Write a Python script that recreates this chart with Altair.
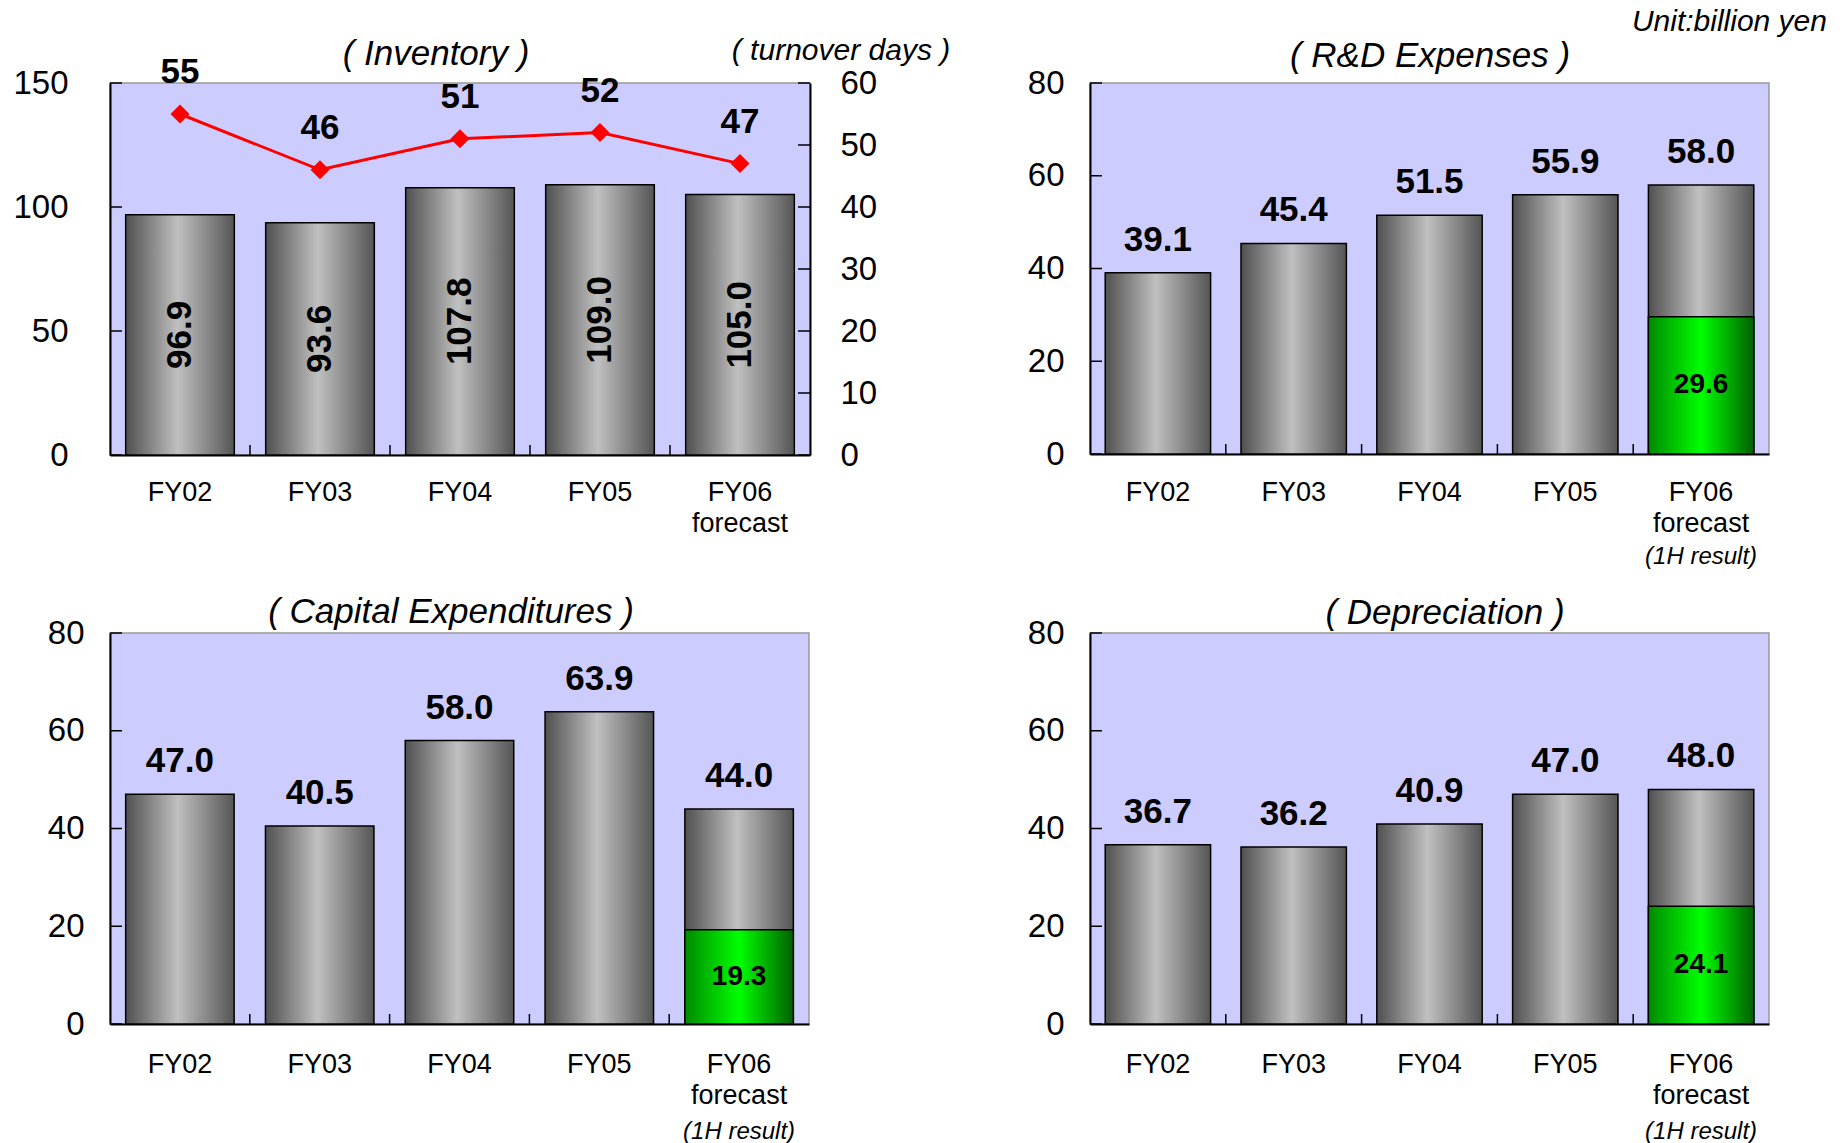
import altair as alt
import pandas as pd

FONT = "Liberation Sans"

# ---------------- data ----------------
cats = ["FY02", "FY03", "FY04", "FY05", "FY06"]
inventory = [96.9, 93.6, 107.8, 109.0, 105.0]
turnover_days = [55, 46, 51, 52, 47]
rd_expenses = [39.1, 45.4, 51.5, 55.9, 58.0]
rd_1h = 29.6
capex = [47.0, 40.5, 58.0, 63.9, 44.0]
capex_1h = 19.3
depreciation = [36.7, 36.2, 40.9, 47.0, 48.0]
dep_1h = 24.1
inv_ticks = [0, 50, 100, 150]
days_ticks = [0, 10, 20, 30, 40, 50, 60]
amt_ticks = [0, 20, 40, 60, 80]
boundary_cats = ["FY03", "FY04", "FY05", "FY06"]
unit_text = "Unit:billion yen"
half_label = "(1H result)"

TICK_FS = 33
CAT_FS = 27
BOLD_FS = 35
TITLE_FS = 35

GRAY = alt.Gradient(
    gradient="linear", x1=0, x2=1, y1=0, y2=0,
    stops=[alt.GradientStop(color="#505050", offset=0),
           alt.GradientStop(color="#c0c0c0", offset=0.48),
           alt.GradientStop(color="#555555", offset=1)])
GREEN = alt.Gradient(
    gradient="linear", x1=0, x2=1, y1=0, y2=0,
    stops=[alt.GradientStop(color="#008a00", offset=0),
           alt.GradientStop(color="#00ff00", offset=0.5),
           alt.GradientStop(color="#006000", offset=1)])

LABEL_EXPR = "datum.value == 'FY06' ? ['FY06', 'forecast'] : datum.value"


def xaxis(label_pad):
    return alt.Axis(title=None, labelAngle=0, labelFontSize=CAT_FS, labelFont=FONT,
                    labelColor="black", labelPadding=label_pad, ticks=False,
                    domainColor="black", domainWidth=2, labelExpr=LABEL_EXPR,
                    labelLineHeight=31, grid=False)


def xenc(label_pad, band_pos=None):
    kw = {}
    if band_pos is not None:
        kw["bandPosition"] = band_pos
    return alt.X("cat:N", sort=cats,
                 scale=alt.Scale(domain=cats, paddingInner=0, paddingOuter=0),
                 axis=xaxis(label_pad), **kw)


def yenc(domain, ticks, label_pad, orient="left"):
    return alt.Y("v:Q",
                 scale=alt.Scale(domain=domain, nice=False, zero=True),
                 axis=alt.Axis(title=None, values=ticks, orient=orient, ticks=False, grid=False,
                               labelFontSize=TICK_FS, labelFont=FONT, labelColor="black",
                               labelPadding=label_pad, domainColor="black", domainWidth=2))


def bar_panel(values, half_value, w, h, ydom, yticks, ylabpad, xlabpad,
              title, tx, ty, half_dy, extra=None):
    df = pd.DataFrame({"cat": cats, "v": values})
    dg = pd.DataFrame({"cat": [cats[-1]], "v": [half_value]})
    dt = pd.DataFrame({"v": yticks})
    db = pd.DataFrame({"cat": boundary_cats})
    x = xenc(xlabpad)
    y = yenc(ydom, yticks, ylabpad)

    bars = alt.Chart(df).mark_bar(width={"band": 0.776}, color=GRAY, stroke="black",
                                  strokeWidth=1.5).encode(x=x, y=y)
    labels = alt.Chart(df).mark_text(font=FONT, fontSize=BOLD_FS, fontWeight="bold", dy=-22,
                                     baseline="alphabetic", color="black").encode(
        x=x, y=y, text=alt.Text("v:Q", format=".1f"))
    green = alt.Chart(dg).mark_bar(width={"band": 0.776}, color=GREEN, stroke="black",
                                   strokeWidth=1.5).encode(x=x, y=y)
    glabel = alt.Chart(dg).transform_calculate(t="format(datum.v, '.1f')").transform_calculate(
        v="datum.v / 2").mark_text(
        font=FONT, fontSize=28, fontWeight="bold", baseline="middle", color="black").encode(
        x=x, y=y, text="t:N")
    lticks = alt.Chart(dt).mark_rule(color="black", strokeWidth=1.5).encode(
        y=y, x=alt.value(0), x2=alt.value(12))
    bticks = alt.Chart(db).mark_rule(color="black", strokeWidth=1.5).encode(
        x=xenc(xlabpad, band_pos=0), y=alt.value(h - 10), y2=alt.value(h))
    ttl = alt.Chart(pd.DataFrame({"t": [title]})).mark_text(
        font=FONT, fontSize=TITLE_FS, fontStyle="italic", align="center", baseline="alphabetic",
        color="black").encode(text="t:N", x=alt.value(tx), y=alt.value(ty))
    half = alt.Chart(dg).mark_text(font=FONT, fontSize=24, fontStyle="italic",
                                   baseline="alphabetic", color="black").encode(
        x=x, y=alt.value(h + half_dy), text=alt.value(half_label))
    layers = [bars, green, labels, glabel, lticks, bticks, ttl, half]
    if extra is not None:
        layers.append(extra)
    return alt.layer(*layers).properties(width=w, height=h)


# ---------------- Inventory panel ----------------
W1, H1 = 700, 372
dfi = pd.DataFrame({"cat": cats, "v": inventory})
dfd = pd.DataFrame({"cat": cats, "v": turnover_days})
x1 = xenc(24)
yl = yenc([0, 150], inv_ticks, 42)
yr = yenc([0, 60], days_ticks, 30, orient="right")

inv_bars = alt.Chart(dfi).mark_bar(width={"band": 0.776}, color=GRAY, stroke="black",
                                   strokeWidth=1.5).encode(x=x1, y=yl)
inv_labels = alt.Chart(dfi).transform_calculate(t="format(datum.v, '.1f')").transform_calculate(
    v="datum.v / 2").mark_text(font=FONT, fontSize=BOLD_FS, fontWeight="bold", angle=270,
                               align="center", baseline="middle", color="black").encode(
    x=x1, y=yl, text="t:N")
inv_lticks = alt.Chart(pd.DataFrame({"v": inv_ticks})).mark_rule(
    color="black", strokeWidth=1.5).encode(y=yl, x=alt.value(0), x2=alt.value(12))
inv_bticks = alt.Chart(pd.DataFrame({"cat": boundary_cats})).mark_rule(
    color="black", strokeWidth=1.5).encode(
    x=xenc(24, band_pos=0), y=alt.value(H1 - 10), y2=alt.value(H1))
inv_title = alt.Chart(pd.DataFrame({"t": ["( Inventory )"]})).mark_text(
    font=FONT, fontSize=TITLE_FS, fontStyle="italic", align="center", baseline="alphabetic",
    color="black").encode(text="t:N", x=alt.value(326), y=alt.value(-18))
days_title = alt.Chart(pd.DataFrame({"t": ["( turnover days )"]})).mark_text(
    font=FONT, fontSize=30, fontStyle="italic", align="center", baseline="alphabetic",
    color="black").encode(text="t:N", x=alt.value(731), y=alt.value(-23))

left_group = alt.layer(inv_bars, inv_labels, inv_lticks, inv_bticks, inv_title, days_title)

days_line = alt.Chart(dfd).mark_line(color="#ff0000", strokeWidth=3).encode(x=x1, y=yr)
days_pts = alt.Chart(dfd).mark_point(shape="diamond", filled=True, size=361, color="#ff0000",
                                     opacity=1).encode(x=x1, y=yr)
days_labels = alt.Chart(dfd).mark_text(font=FONT, fontSize=BOLD_FS, fontWeight="bold", dy=-31,
                                       baseline="alphabetic", color="black").encode(
    x=x1, y=yr, text="v:Q")
days_rticks = alt.Chart(pd.DataFrame({"v": days_ticks})).mark_rule(
    color="black", strokeWidth=1.5).encode(y=yr, x=alt.value(W1 - 12), x2=alt.value(W1))
right_group = alt.layer(days_line, days_pts, days_labels, days_rticks)

inv_panel = alt.layer(left_group, right_group).resolve_scale(y="independent").properties(
    width=W1, height=H1)

# ---------------- other panels ----------------
unit = alt.Chart(pd.DataFrame({"t": [unit_text]})).mark_text(
    font=FONT, fontSize=30, fontStyle="italic", align="right", baseline="alphabetic",
    color="black").encode(text="t:N", x=alt.value(737), y=alt.value(-52))

rd_panel = bar_panel(rd_expenses, rd_1h, 679, 371, [0, 80], amt_ticks, 26, 25,
                     "( R&D Expenses )", 340, -16, 110, extra=unit)
cap_panel = bar_panel(capex, capex_1h, 699, 391, [0, 80], amt_ticks, 26, 27,
                      "( Capital Expenditures )", 341, -10, 115)
dep_panel = bar_panel(depreciation, dep_1h, 679, 391, [0, 80], amt_ticks, 26, 27,
                      "( Depreciation )", 355, -9, 115)

chart = alt.concat(inv_panel, rd_panel, cap_panel, dep_panel, columns=2,
                   spacing={"row": 178, "column": 280}, bounds="flush").properties(
    padding={"left": 12, "top": 6, "right": 5, "bottom": 0},
    background="white",
).configure_view(fill="#ccccff", stroke="#999999", strokeWidth=1.5).configure_axis(
    labelFont=FONT)

chart.save("out.html", embed_options={"renderer": "svg", "actions": False})
